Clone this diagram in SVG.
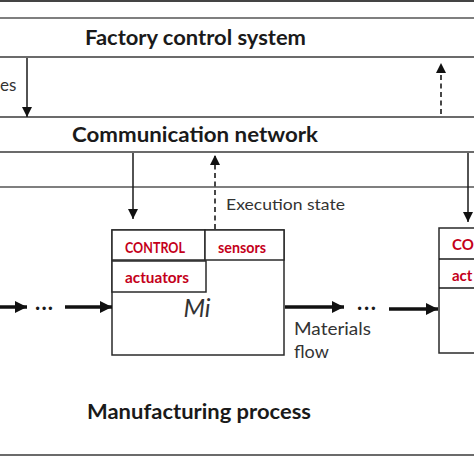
<svg xmlns="http://www.w3.org/2000/svg" width="474" height="474" viewBox="0 0 474 474">
<style>
.band{stroke:#3a3a3a;stroke-width:1.6;fill:none}
.title{font-family:Lato,"Liberation Sans",sans-serif;font-weight:bold;fill:#1a1a1a}
.red{font-family:Lato,"Liberation Sans",sans-serif;font-weight:bold;fill:#c4001a;font-size:15px}
.lbl{font-family:Lato,"Liberation Sans",sans-serif;fill:#333}
.box{fill:#fff;stroke:#2a2a2a;stroke-width:1.5}
.thin{stroke:#1a1a1a;stroke-width:1.5;fill:none}
.dash{stroke:#1a1a1a;stroke-width:1.6;fill:none;stroke-dasharray:5 3.5}
.thick{stroke:#111;stroke-width:3.5;fill:none}
</style>
<defs>
<marker id="ah" viewBox="0 0 10 10" refX="10" refY="5" markerWidth="10" markerHeight="12" markerUnits="userSpaceOnUse" orient="auto">
<path d="M0,0 L10,5 L0,10 Z" fill="#111"/>
</marker>
<marker id="ahb" viewBox="0 0 10 10" refX="10" refY="5" markerWidth="12" markerHeight="12" markerUnits="userSpaceOnUse" orient="auto">
<path d="M0,0 L10,5 L0,10 Z" fill="#111"/>
</marker>
</defs>
<rect width="474" height="474" fill="#fff"/>
<rect x="0" y="0" width="474" height="2" fill="#444"/>

<g id="factory-control-system">
<line class="band" x1="0" y1="18" x2="474" y2="18" stroke-width="2" style="stroke:#555"/>
<line class="band" x1="0" y1="57" x2="474" y2="57"/>
<text class="title" x="85" y="45" font-size="21" textLength="221" lengthAdjust="spacingAndGlyphs">Factory control system</text>
</g>

<g id="communication-network">
<line class="band" x1="0" y1="117" x2="474" y2="117"/>
<line class="band" x1="0" y1="152" x2="474" y2="152"/>
<text class="title" x="72" y="142" font-size="21" textLength="246" lengthAdjust="spacingAndGlyphs">Communication network</text>
</g>

<g id="separator">
<line class="band" x1="0" y1="187" x2="474" y2="187" style="stroke:#555"/>
</g>

<g id="machine-mi">
<rect class="box" x="112" y="230" width="172" height="125"/>
<rect class="box" x="112" y="230" width="93" height="30"/>
<rect class="box" x="205" y="230" width="79" height="30"/>
<rect class="box" x="112" y="261" width="94" height="31" stroke-width="2"/>
<text class="red" x="125" y="253" textLength="60" lengthAdjust="spacingAndGlyphs">CONTROL</text>
<text class="red" x="218" y="253" textLength="48" lengthAdjust="spacingAndGlyphs">sensors</text>
<text class="red" x="125" y="283" textLength="64" lengthAdjust="spacingAndGlyphs">actuators</text>
<text class="lbl" x="197" y="317" font-size="25" font-style="italic" text-anchor="middle" fill="#1a1a1a">Mi</text>
</g>

<g id="machine-next">
<rect class="box" x="439" y="228" width="40" height="125"/>
<line class="thin" x1="439" y1="259" x2="474" y2="259"/>
<line class="thin" x1="439" y1="288" x2="474" y2="288"/>
<text class="red" x="452" y="250">CO</text>
<text class="red" x="452" y="281">act</text>
</g>

<g id="manufacturing-process">
<line class="band" x1="0" y1="455" x2="474" y2="455" stroke-width="2"/>
<text class="title" x="87" y="419" font-size="20" textLength="224" lengthAdjust="spacingAndGlyphs">Manufacturing process</text>
</g>

<g id="connectors">
<line class="thin" x1="27" y1="58" x2="27" y2="117" marker-end="url(#ah)"/>
<text class="lbl" x="0" y="91" font-size="17" fill="#222">es</text>
<line class="dash" x1="441" y1="114" x2="441" y2="63" marker-end="url(#ah)"/>
<line class="thin" x1="133" y1="153" x2="133" y2="219" marker-end="url(#ah)"/>
<line class="dash" x1="215" y1="229" x2="215" y2="155" marker-end="url(#ah)"/>
<text class="lbl" x="226" y="210" font-size="16" textLength="119" lengthAdjust="spacingAndGlyphs">Execution state</text>
<line class="thin" x1="468" y1="153" x2="468" y2="222" marker-end="url(#ah)"/>

<line class="thick" x1="0" y1="307" x2="27" y2="307" marker-end="url(#ahb)"/>
<text class="title" x="35" y="310" font-size="22" font-weight="900" textLength="18">...</text>
<line class="thick" x1="65" y1="307" x2="112" y2="307" marker-end="url(#ahb)"/>
<line class="thick" x1="285" y1="307" x2="344" y2="307" marker-end="url(#ahb)"/>
<text class="title" x="357" y="310" font-size="22" font-weight="900" textLength="19">...</text>
<line class="thick" x1="389" y1="309" x2="438" y2="309" marker-end="url(#ahb)"/>
<text class="lbl" x="294" y="335" font-size="18" textLength="77" lengthAdjust="spacingAndGlyphs">Materials</text>
<text class="lbl" x="294" y="358" font-size="18">flow</text>
</g>
</svg>
